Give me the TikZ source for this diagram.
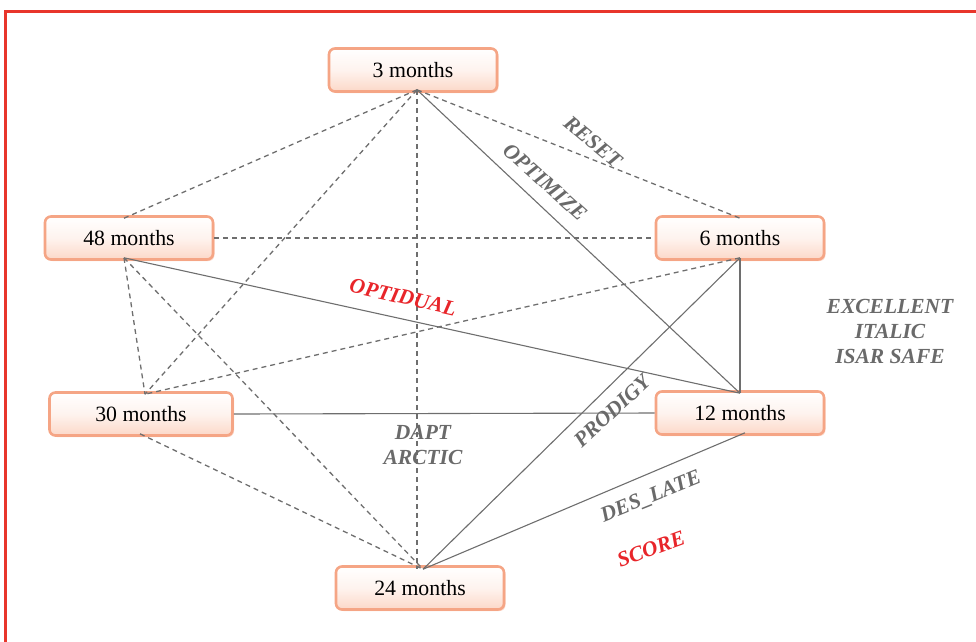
\documentclass[tikz,border=0pt]{standalone}
\usepackage{fontspec}
\setmainfont{Liberation Serif}
\usetikzlibrary{calc,shadows}
\definecolor{frame}{HTML}{E8352B}
\definecolor{edge}{HTML}{6E6E6E}
\definecolor{lbl}{HTML}{6A6A6A}
\definecolor{redl}{HTML}{E8252A}
\definecolor{boxline}{HTML}{F5A585}
\definecolor{boxbot}{HTML}{FCD8C8}
\tikzset{
  period/.style={draw=boxline, line width=2.6pt, rounded corners=6pt,
    top color=white, bottom color=boxbot, middle color=white!70!boxbot,
    minimum width=#1, minimum height=43pt, inner sep=0pt,
    font=\fontsize{21.8}{26}\selectfont,
    drop shadow={shadow xshift=1.5pt, shadow yshift=-1.5pt, fill=boxline, opacity=0.45}},
  period/.default=168pt,
  solidln/.style={draw=edge, line width=1.1pt},
  dashln/.style={draw=edge, line width=1.3pt, dash pattern=on 5pt off 4pt},
  graylbl/.style={text=lbl, font=\fontsize{21.5}{25}\selectfont\bfseries\itshape, inner sep=0pt, align=center},
  redlbl/.style={text=redl, font=\fontsize{21.5}{25}\selectfont\bfseries\itshape, inner sep=0pt}
}
\begin{document}
\begin{tikzpicture}[x=1pt,y=-1pt]
\useasboundingbox (0,0) rectangle (976,641);
\draw[frame, line width=2.4pt] (5.5,11.5) rectangle (995,660);

% nodes
\node[period] (n3)  at (413,70)  {3 months};
\node[period] (n48) at (129,238) {48 months};
\node[period] (n6)  at (740,238) {6 months};
\node[period=183pt] (n30) at (141,414) {30 months};
\node[period] (n12) at (740,413) {12 months};
\node[period] (n24) at (420,588) {24 months};

% connection points
\coordinate (a3)  at ($(n3.south)+(4,-3)$);
\coordinate (a48t) at ($(n48.north)+(-5,3)$);
\coordinate (a48b) at ($(n48.south)+(-5,-3)$);
\coordinate (a6t) at ($(n6.north)+(0,3)$);
\coordinate (a6b) at ($(n6.south)+(0,-3)$);
\coordinate (a30t) at ($(n30.north)+(4,3)$);
\coordinate (a30b) at ($(n30.south)+(-1,-3)$);
\coordinate (a12t) at ($(n12.north)+(0,3)$);
\coordinate (a12b) at ($(n12.south)+(5,-3)$);
\coordinate (a24) at ($(n24.north)+(3,4)$);

% edges
\draw[dashln] (a3) -- (a48t);
\draw[dashln] (a3) -- (a6t);
\draw[solidln] (a3) -- (a12t);
\draw[dashln] (a3) -- ($(n24.north)+(-3,4)$);
\draw[dashln] (a3) -- (a30t);
\draw[dashln] (n48.east) -- (n6.west);
\draw[solidln] (a48b) -- (a12t);
\draw[dashln] (a48b) -- (a30t);
\draw[dashln] (a48b) -- (a24);
\draw[dashln] (a6b) -- (a30t);
\draw[solidln] (a6b) -- (a12t);
\draw[solidln] (a6b) -- (a24);
\draw[solidln] (n30.east) -- (n12.west);
\draw[dashln] (a30b) -- (a24);
\draw[solidln] (a12b) -- (a24);

% labels
\node[graylbl, rotate=-40] (lreset) at (593,142) {RESET};
\node[graylbl, rotate=-42] (lopt) at (545,182) {OPTIMIZE};
\node[redlbl, rotate=-13] (lod) at (403,297) {OPTIDUAL};
\node[graylbl] (lexc) at (890,331) {EXCELLENT\\ITALIC\\ISAR SAFE};
\node[graylbl] (ldapt) at (423,445) {DAPT\\ARCTIC};
\node[graylbl, rotate=43] (lprod) at (612,411) {PRODIGY};
\node[graylbl, rotate=22] (ldes) at (651,497) {DES\_LATE};
\node[redlbl, rotate=20] (lscore) at (651,549) {SCORE};
\end{tikzpicture}
\end{document}
